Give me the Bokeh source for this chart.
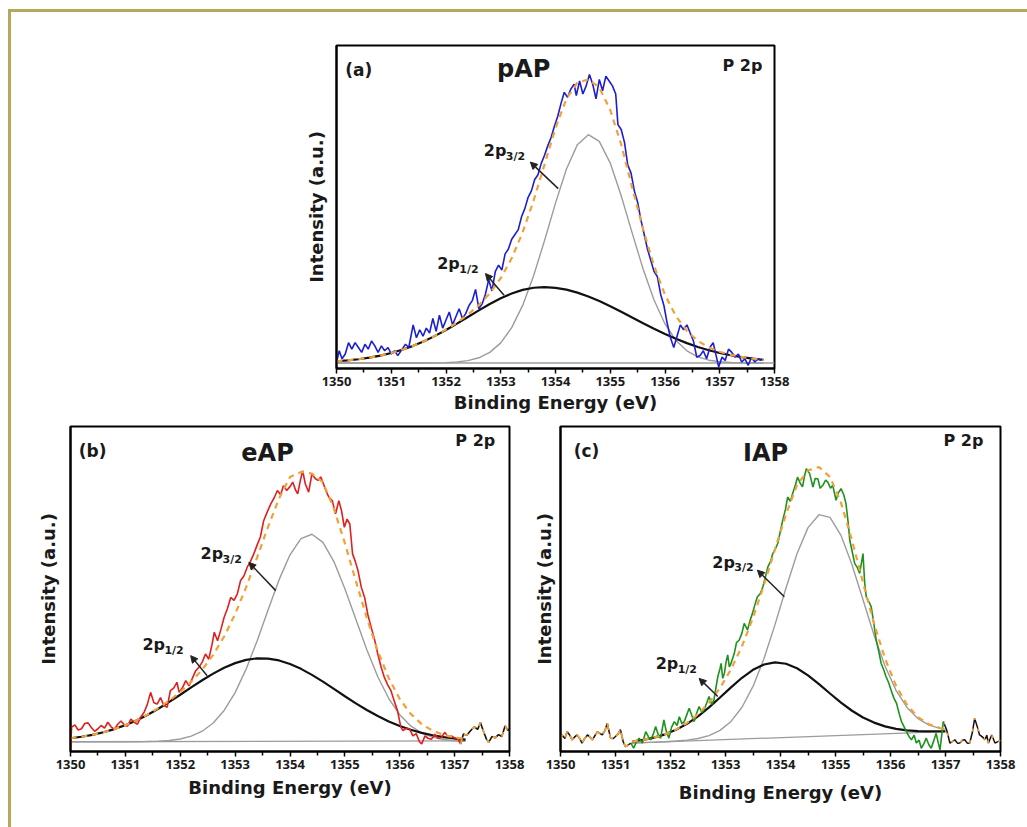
from bokeh.plotting import figure
from bokeh.models import Range1d, FixedTicker, Label, Arrow, NormalHead, Div, Spacer
from bokeh.layouts import column, row
from bokeh.embed import file_html
from bokeh.resources import INLINE

FONT = "DejaVu Sans"
TICK_FONT = "Open Sans"

# ---------------- data ----------------
X_TICKS = [1350, 1351, 1352, 1353, 1354, 1355, 1356, 1357, 1358]
X_MINOR = [1350.5, 1351.5, 1352.5, 1353.5, 1354.5, 1355.5, 1356.5, 1357.5]

# (a) pAP measured spectrum
A_E = [1350.00,1350.05,1350.10,1350.16,1350.22,1350.28,1350.34,1350.40,1350.46,1350.52,
       1350.58,1350.64,1350.70,1350.76,1350.82,1350.88,1350.94,1351.00,1351.06,1351.12,
       1351.20,1351.26,1351.32,1351.40,1351.46,1351.52,1351.58,1351.64,1351.70,1351.76,
       1351.82,1351.88,1351.94,1352.00,1352.06,1352.12,1352.18,1352.24,1352.30,1352.36,
       1352.42,1352.48,1352.54,1352.60,1352.66,1352.72,1352.78,1352.84,1352.90,1352.96,
       1353.02,1353.08,1353.14,1353.20,1353.26,1353.32,1353.38,1353.44,1353.50,1353.56,
       1353.62,1353.68,1353.74,1353.80,1353.86,1353.92,1353.98,1354.04,1354.10,1354.16,
       1354.22,1354.28,1354.34,1354.38,1354.44,1354.50,1354.56,1354.62,1354.68,1354.74,
       1354.80,1354.86,1354.92,1354.98,1355.04,1355.10,1355.14,1355.20,1355.26,1355.32,
       1355.38,1355.44,1355.50,1355.56,1355.62,1355.68,1355.74,1355.80,1355.86,1355.92,
       1355.98,1356.04,1356.10,1356.16,1356.22,1356.28,1356.34,1356.40,1356.46,1356.52,
       1356.58,1356.64,1356.70,1356.76,1356.82,1356.88,1356.94,1356.98,1357.04,1357.10,
       1357.16,1357.22,1357.28,1357.34,1357.40,1357.46,1357.52,1357.58,1357.64,1357.70,
       1357.76]
A_I = [2.0,5.5,3.0,4.5,8.0,6.0,8.0,6.5,5.0,7.5,
       6.0,8.5,7.0,5.0,7.0,5.5,6.5,4.5,5.5,4.0,
       6.0,7.5,6.5,13.5,9.5,12.0,10.0,12.5,11.0,15.5,
       11.5,16.5,12.5,15.0,17.5,13.5,16.0,18.5,15.5,17.0,
       19.5,21.0,24.5,18.5,20.0,23.0,27.5,24.0,30.0,32.0,
       30.5,35.5,37.0,40.0,41.5,43.0,47.0,49.5,53.0,55.0,
       58.5,60.0,63.5,66.0,69.0,71.5,75.0,78.0,82.0,85.5,
       84.0,86.5,88.0,84.5,89.0,85.0,87.5,91.0,88.0,83.5,
       89.5,86.0,90.5,89.0,87.5,85.0,75.5,74.0,70.0,63.0,
       60.5,55.0,51.5,46.0,41.5,37.0,33.5,30.0,28.5,23.0,
       19.5,14.0,9.5,6.5,10.0,13.5,12.0,13.5,11.0,8.5,
       3.5,4.0,5.5,3.0,6.5,8.0,3.5,0.5,3.5,2.5,
       6.0,5.0,3.5,4.5,2.0,3.0,1.0,3.5,2.0,3.0,
       2.5]

# fit grid for (a) and (b)
FIT_E = [1350.0,1350.2,1350.4,1350.6,1350.8,1351.0,1351.2,1351.4,1351.6,1351.8,
         1352.0,1352.2,1352.4,1352.6,1352.8,1353.0,1353.2,1353.4,1353.6,1353.8,
         1354.0,1354.2,1354.4,1354.6,1354.8,1355.0,1355.2,1355.4,1355.6,1355.8,
         1356.0,1356.2,1356.4,1356.6,1356.8,1357.0,1357.2,1357.4,1357.6,1357.8]
A_P32 = [1.7,1.7,1.7,1.7,1.7,1.7,1.7,1.7,1.71,1.74,
         1.82,2.01,2.44,3.32,5.0,7.93,12.64,19.54,28.7,39.65,
         51.2,61.75,69.3,72.4,70.3,63.6,53.5,42.0,30.8,21.2,
         13.8,8.7,5.47,3.58,2.57,2.07,1.85,1.76,1.72,1.7]
A_P12 = [2.25,2.51,2.87,3.35,3.98,4.79,5.79,7.01,8.45,10.1,
         11.93,13.9,15.96,18.0,19.96,21.73,23.21,24.33,25.0,25.2,
         24.98,24.4,23.5,22.3,20.88,19.27,17.55,15.77,14.0,12.29,
         10.67,9.19,7.85,6.67,5.66,4.8,4.09,3.52,3.06,2.7]
A_ENV = [2.25,2.51,2.87,3.35,3.98,4.79,5.79,7.01,8.46,10.14,
         12.05,14.21,16.7,19.62,23.26,27.96,34.15,42.17,52.0,63.15,
         74.48,83.5,88.5,89.5,87.0,80.0,69.35,56.07,43.1,31.79,
         22.77,16.19,11.62,8.55,6.53,5.17,4.24,3.58,3.08,2.7]
A_BG_E = [1350.0, 1358.0]
A_BG = [1.7, 1.7]

# (b) eAP measured spectrum
B_E = [1350.00,1350.02,1350.08,1350.14,1350.20,1350.26,1350.32,1350.38,1350.44,1350.50,
       1350.56,1350.62,1350.68,1350.74,1350.80,1350.86,1350.92,1350.98,1351.04,1351.10,
       1351.16,1351.22,1351.28,1351.34,1351.40,1351.46,1351.52,1351.58,1351.64,1351.70,
       1351.76,1351.82,1351.88,1351.94,1351.98,1352.04,1352.10,1352.16,1352.22,1352.28,
       1352.34,1352.40,1352.46,1352.52,1352.58,1352.62,1352.68,1352.74,1352.80,1352.86,
       1352.92,1352.98,1353.04,1353.10,1353.16,1353.22,1353.28,1353.34,1353.40,1353.46,
       1353.52,1353.58,1353.65,1353.71,1353.77,1353.83,1353.88,1353.94,1354.00,1354.05,
       1354.10,1354.14,1354.19,1354.23,1354.28,1354.34,1354.40,1354.46,1354.51,1354.56,
       1354.61,1354.66,1354.71,1354.77,1354.83,1354.89,1354.94,1354.99,1355.04,1355.09,
       1355.14,1355.19,1355.24,1355.30,1355.36,1355.42,1355.48,1355.54,1355.60,1355.66,
       1355.72,1355.78,1355.84,1355.90,1355.96,1356.02,1356.06,1356.12,1356.18,1356.24,
       1356.30,1356.36,1356.40,1356.46,1356.52,1356.58,1356.64,1356.70,1356.76,1356.82,
       1356.88,1356.94,1357.00,1357.06,1357.11]
B_I = [0.8,7.5,8.2,6.6,7.0,8.6,8.8,7.4,6.2,7.0,
       8.0,7.2,9.0,7.6,6.8,8.4,9.4,8.2,7.8,10.0,
       9.0,8.4,10.6,12.0,14.5,18.2,15.0,14.6,16.6,14.2,
       13.6,18.7,19.5,21.3,18.2,19.6,21.8,20.2,22.5,24.8,
       25.9,27.5,30.0,28.4,33.0,36.7,34.1,37.5,41.3,44.0,
       47.4,46.5,48.5,52.6,54.0,56.7,58.5,60.8,63.5,66.0,
       71.0,73.5,76.2,78.0,80.3,79.0,81.8,80.3,81.5,82.9,
       80.5,79.3,83.5,86.4,82.3,79.8,85.4,84.0,83.4,84.5,
       82.3,80.0,78.2,77.2,73.1,77.2,74.0,69.0,71.5,70.0,
       60.8,58.5,55.6,50.5,47.4,42.0,38.2,34.5,30.0,26.0,
       22.8,20.5,18.7,15.5,12.5,7.5,6.4,7.2,6.9,4.8,
       5.5,3.0,2.3,4.8,4.0,3.8,5.3,4.0,4.3,5.9,
       4.5,4.8,4.2,3.8,2.3]
B_TAIL_E = [1357.11,1357.16,1357.22,1357.29,1357.36,1357.42,1357.47,1357.53,1357.58,
            1357.62,1357.68,1357.74,1357.80,1357.86,1357.92,1357.97,1358.00]
B_TAIL_I = [2.3,5.4,5.0,6.4,7.6,6.8,8.9,6.0,3.8,2.8,4.6,4.2,5.2,4.6,7.9,6.5,7.0]
B_P32 = [3.0,3.0,3.0,3.0,3.0,3.0,3.0,3.07,3.18,3.4,
         3.86,4.72,6.25,8.77,12.63,18.12,25.34,34.03,43.53,52.8,
         60.52,65.5,66.85,64.36,58.44,50.11,40.66,31.3,23.0,16.29,
         11.31,7.88,5.7,4.41,3.69,3.32,3.14]
B_P12 = [4.07,4.53,5.13,5.91,6.9,8.11,9.57,11.25,13.16,15.25,
         17.46,19.72,21.92,23.97,25.76,27.19,28.18,28.66,28.6,28.02,
         26.94,25.43,23.58,21.49,19.27,17.01,14.82,12.76,10.9,9.26,
         7.85,6.69,5.74,4.99,4.42,3.99,3.68]
B_ENV = [4.07,4.53,5.13,5.91,6.9,8.11,9.57,11.32,13.34,15.65,
         18.32,21.44,25.17,29.74,35.39,42.31,50.52,59.69,69.13,77.82,
         84.46,86.0,85.5,82.85,74.71,64.12,52.48,41.06,30.9,22.55,
         16.16,11.57,8.44,6.4,5.11,4.31,3.82]
B_BG_E = [1350.0, 1357.2]
B_BG = [3.0, 3.3]

# (c) IAP measured spectrum
C_E = [1351.28,1351.33,1351.38,1351.43,1351.49,1351.55,1351.60,1351.64,1351.69,1351.73,
       1351.78,1351.82,1351.88,1351.92,1351.97,1352.02,1352.07,1352.12,1352.16,1352.21,
       1352.25,1352.30,1352.34,1352.39,1352.43,1352.48,1352.52,1352.57,1352.61,1352.66,
       1352.70,1352.75,1352.79,1352.83,1352.86,1352.90,1352.92,1352.95,1352.98,1353.01,
       1353.04,1353.07,1353.10,1353.16,1353.20,1353.25,1353.30,1353.34,1353.40,1353.45,
       1353.49,1353.54,1353.58,1353.63,1353.68,1353.73,1353.77,1353.82,1353.86,1353.91,
       1353.95,1354.00,1354.04,1354.09,1354.13,1354.18,1354.22,1354.27,1354.31,1354.36,
       1354.40,1354.44,1354.47,1354.53,1354.59,1354.63,1354.68,1354.72,1354.77,1354.82,
       1354.86,1354.91,1354.95,1355.01,1355.05,1355.10,1355.15,1355.19,1355.23,1355.26,
       1355.31,1355.35,1355.40,1355.44,1355.50,1355.53,1355.56,1355.61,1355.65,1355.70,
       1355.74,1355.79,1355.83,1355.88,1355.92,1355.97,1356.01,1356.06,1356.11,1356.16,
       1356.20,1356.25,1356.29,1356.34,1356.38,1356.43,1356.47,1356.52,1356.56,1356.61,
       1356.65,1356.70,1356.74,1356.79,1356.83,1356.87,1356.90,1356.96]
C_I = [2.6,1.0,3.0,4.1,2.6,6.1,4.5,3.6,5.5,7.7,
       5.0,4.1,9.7,6.5,4.1,7.5,9.2,8.0,10.7,8.5,
       9.2,11.5,13.3,11.0,9.2,12.0,13.8,12.0,12.8,15.0,
       16.9,14.5,15.9,20.0,23.0,25.5,27.1,22.5,24.1,27.5,
       29.7,26.0,27.1,30.2,33.5,34.3,36.5,39.4,37.4,40.5,
       42.5,45.5,47.6,48.5,50.7,54.0,56.8,58.5,60.9,62.5,
       64.0,68.0,71.1,74.5,78.3,77.0,79.3,82.0,84.4,82.5,
       81.4,85.0,87.0,85.5,81.4,84.0,83.9,81.0,81.9,83.5,
       82.9,81.0,81.9,77.3,79.5,80.9,79.0,76.3,70.5,65.0,
       61.0,57.8,56.5,54.8,60.9,52.0,47.6,46.0,44.5,39.0,
       34.3,30.5,27.1,25.0,23.0,21.0,18.9,16.5,14.8,11.5,
       9.2,7.5,6.1,4.5,3.6,5.0,2.6,3.5,1.0,2.5,
       4.1,2.0,1.0,3.5,5.6,2.5,0.5,9.2]
C_LEFT_E = [1350.00,1350.03,1350.08,1350.12,1350.17,1350.21,1350.26,1350.30,1350.35,1350.39,
            1350.44,1350.49,1350.53,1350.58,1350.63,1350.67,1350.72,1350.76,1350.81,1350.85,
            1350.91,1350.96,1351.00,1351.05,1351.09,1351.14,1351.18,1351.23,1351.28]
C_LEFT_I = [3.5,5.1,4.0,6.1,5.0,3.6,4.5,5.1,4.0,2.6,
            4.0,5.1,4.5,3.6,5.0,6.1,5.5,5.1,6.5,8.7,
            4.1,4.0,4.6,5.5,6.7,3.0,1.5,2.0,2.6]
C_RIGHT_E = [1356.96,1357.02,1357.08,1357.12,1357.17,1357.22,1357.26,1357.31,1357.35,1357.40,
             1357.44,1357.49,1357.53,1357.58,1357.62,1357.67,1357.72,1357.75,1357.78,1357.84,
             1357.90,1357.96,1358.00]
C_RIGHT_I = [9.2,6.7,2.6,3.0,3.6,2.5,2.6,3.5,3.6,2.5,
             2.6,6.0,10.2,7.5,5.1,4.5,3.6,5.0,2.6,5.1,
             2.6,3.1,3.5]
C_FIT_E = [1351.3,1351.5,1351.7,1351.9,1352.1,1352.3,1352.5,1352.7,1352.9,1353.1,
           1353.3,1353.5,1353.7,1353.9,1354.1,1354.3,1354.5,1354.7,1354.9,1355.1,
           1355.3,1355.5,1355.7,1355.9,1356.1,1356.3,1356.5,1356.7,1356.9,1357.0]
C_P32 = [2.61,2.74,2.87,3.02,3.21,3.5,4.0,4.89,6.51,9.25,
         13.61,20.02,28.61,39.03,50.29,60.84,68.89,72.87,72.02,66.5,
         57.48,46.69,35.85,26.32,18.84,13.54,10.12,8.13,7.11,6.82]
C_P12 = [3.08,3.57,4.27,5.28,6.67,8.51,10.82,13.56,16.62,19.74,
         22.68,25.12,26.76,27.41,27.0,25.61,23.42,20.72,17.85,15.04,
         12.54,10.48,8.89,7.74,6.98,6.52,6.28,6.18,6.19,6.21]
C_ENV = [3.08,3.57,4.28,5.32,6.78,8.78,11.47,14.98,19.53,25.27,
         32.45,41.17,51.28,62.23,72.96,81.99,86.5,87.5,84.5,76.59,
         64.95,51.97,39.42,28.62,20.25,14.37,10.59,8.38,7.24,6.91]
C_BG_E = [1351.28, 1356.97]
C_BG = [2.6, 6.1]

GOLD = "#b6a75c"
ORANGE = "#f2a13a"
GRAY = "#9c9c9c"
INK = "#1a1a1a"


def make_fig(ml, mr, mt, mb, fw, fh, ystand, xstand, margin=0):
    p = figure(frame_width=fw, frame_height=fh,
               x_range=Range1d(1350, 1358), y_range=Range1d(0, 100),
               output_backend="svg", toolbar_location=None,
               min_border_left=ml, min_border_right=mr,
               min_border_top=mt, min_border_bottom=mb, margin=margin)
    p.grid.visible = False
    p.outline_line_color = "black"
    p.outline_line_width = 2
    p.background_fill_color = "white"
    p.border_fill_color = "white"
    p.border_fill_alpha = 0
    xa = p.xaxis[0]
    xa.ticker = FixedTicker(ticks=X_TICKS, minor_ticks=X_MINOR)
    xa.axis_line_width = 2
    xa.major_tick_line_width = 1.5
    xa.minor_tick_line_width = 1.5
    xa.major_tick_in = 0
    xa.major_tick_out = 5
    xa.minor_tick_in = 0
    xa.minor_tick_out = 4
    xa.major_label_text_font = TICK_FONT
    xa.major_label_text_font_size = "13px"
    xa.major_label_text_font_style = "bold"
    xa.major_label_text_color = INK
    xa.major_label_standoff = 3
    xa.axis_label = "Binding Energy (eV)"
    xa.axis_label_text_font = FONT
    xa.axis_label_text_font_size = "18px"
    xa.axis_label_text_font_style = "bold"
    xa.axis_label_text_color = INK
    xa.axis_label_standoff = xstand
    ya = p.yaxis[0]
    ya.ticker = FixedTicker(ticks=[])
    ya.axis_label = "Intensity (a.u.)"
    ya.axis_line_width = 2
    ya.major_tick_line_color = None
    ya.minor_tick_line_color = None
    ya.axis_label_text_font = FONT
    ya.axis_label_text_font_size = "18px"
    ya.axis_label_text_font_style = "bold"
    ya.axis_label_text_color = INK
    ya.axis_label_standoff = ystand
    return p


def txt(p, x, y, text, size, align="left", baseline="middle", x_offset=0):
    p.add_layout(Label(x=x, y=y, text=text, text_font=FONT, text_font_size=size,
                       text_font_style="bold", text_color=INK,
                       text_align=align, text_baseline=baseline, x_offset=x_offset))


def peak_label(p, x, y, sub, tail, head):
    txt(p, x, y, "2p", "16px", baseline="alphabetic")
    txt(p, x, y - 1.8, sub, "11px", baseline="alphabetic", x_offset=22)
    p.add_layout(Arrow(end=NormalHead(size=7, fill_color="#222222", line_color="#222222"),
                       x_start=tail[0], y_start=tail[1], x_end=head[0], y_end=head[1],
                       line_color="#222222", line_width=1.5))


def fit_lines(p, bg_e, bg, fe, p32, p12):
    p.line(bg_e, bg, line_color=GRAY, line_width=1.3)
    p.line(fe[:len(p32)], p32, line_color=GRAY, line_width=1.4)
    p.line(fe[:len(p12)], p12, line_color="#111111", line_width=2.2)


# ---------------- panel (a) ----------------
# 33 + 323 + 80 = 436 tall; pull the next row up so it starts 412 px below the top
pa = make_fig(60, 16, 33, 80, 438, 323, 10, 3, margin=(0, 0, -24, 0))
fit_lines(pa, A_BG_E, A_BG, FIT_E, A_P32, A_P12)
pa.line(A_E, A_I, line_color="#1c1fd0", line_width=1.6)
pa.line(FIT_E, A_ENV, line_color=ORANGE, line_width=2.2, line_dash="6 5")
txt(pa, 1350.16, 92.3, "(a)", "17px")
txt(pa, 1353.42, 92.6, "pAP", "24px", align="center")
txt(pa, 1357.78, 93.8, "P 2p", "16px", align="right")
peak_label(pa, 1352.69, 67.5, "3/2", (1354.05, 55.7), (1353.54, 63.9))
peak_label(pa, 1351.84, 32.5, "1/2", (1353.06, 22.7), (1352.72, 29.4))

# ---------------- panel (b) ----------------
pb = make_fig(59, 16, 2, 76, 439, 325, 12, 5)
fit_lines(pb, B_BG_E, B_BG, FIT_E, B_P32, B_P12)
pb.line(B_E, B_I, line_color="#e0201f", line_width=1.6)
pb.line(B_TAIL_E, B_TAIL_I, line_color="#111111", line_width=1.6)
pb.line(B_TAIL_E, B_TAIL_I, line_color=ORANGE, line_width=1.8, line_dash="5 6")
pb.line(FIT_E[:len(B_ENV)], B_ENV, line_color=ORANGE, line_width=2.2, line_dash="6 5")
txt(pb, 1350.15, 92.6, "(b)", "17px")
txt(pb, 1353.59, 91.7, "eAP", "24px", align="center")
txt(pb, 1357.74, 95.7, "P 2p", "16px", align="right")
peak_label(pb, 1352.37, 60.8, "3/2", (1353.74, 49.5), (1353.25, 58.2))
peak_label(pb, 1351.31, 33.0, "1/2", (1352.49, 23.3), (1352.19, 29.5))

# ---------------- panel (c) ----------------
pc = make_fig(35, 16, 2, 76, 440, 325, 6, 10)
fit_lines(pc, C_BG_E, C_BG, C_FIT_E, C_P32, C_P12)
pc.line(C_LEFT_E, C_LEFT_I, line_color="#111111", line_width=1.5)
pc.line(C_LEFT_E, C_LEFT_I, line_color=ORANGE, line_width=1.8, line_dash="7 4")
pc.line(C_RIGHT_E, C_RIGHT_I, line_color="#111111", line_width=1.5)
pc.line(C_RIGHT_E, C_RIGHT_I, line_color=ORANGE, line_width=1.8, line_dash="3 9")
pc.line(C_E, C_I, line_color="#1e921e", line_width=1.6)
pc.line(C_FIT_E, C_ENV, line_color=ORANGE, line_width=2.2, line_dash="6 5")
txt(pc, 1350.24, 92.6, "(c)", "17px")
txt(pc, 1353.73, 91.7, "IAP", "24px", align="center")
txt(pc, 1357.69, 95.7, "P 2p", "16px", align="right")
peak_label(pc, 1352.76, 58.3, "3/2", (1354.07, 47.6), (1353.58, 55.8))
peak_label(pc, 1351.73, 27.1, "1/2", (1352.86, 16.9), (1352.52, 22.5))

# ---------------- layout ----------------
top_line = Div(text="", width=1019, height=3, margin=0, styles={"background-color": GOLD})
left_line = Div(text="", width=3, height=815, margin=0, styles={"background-color": GOLD})
content = column(row(Spacer(width=265, height=10, margin=0), pa), row(pb, pc))
page = column(Spacer(width=10, height=9, margin=0),
              row(Spacer(width=8, height=3, margin=0), top_line),
              row(Spacer(width=8, height=10, margin=0), left_line, content))

open("out.html", "w").write(file_html(page, INLINE))
